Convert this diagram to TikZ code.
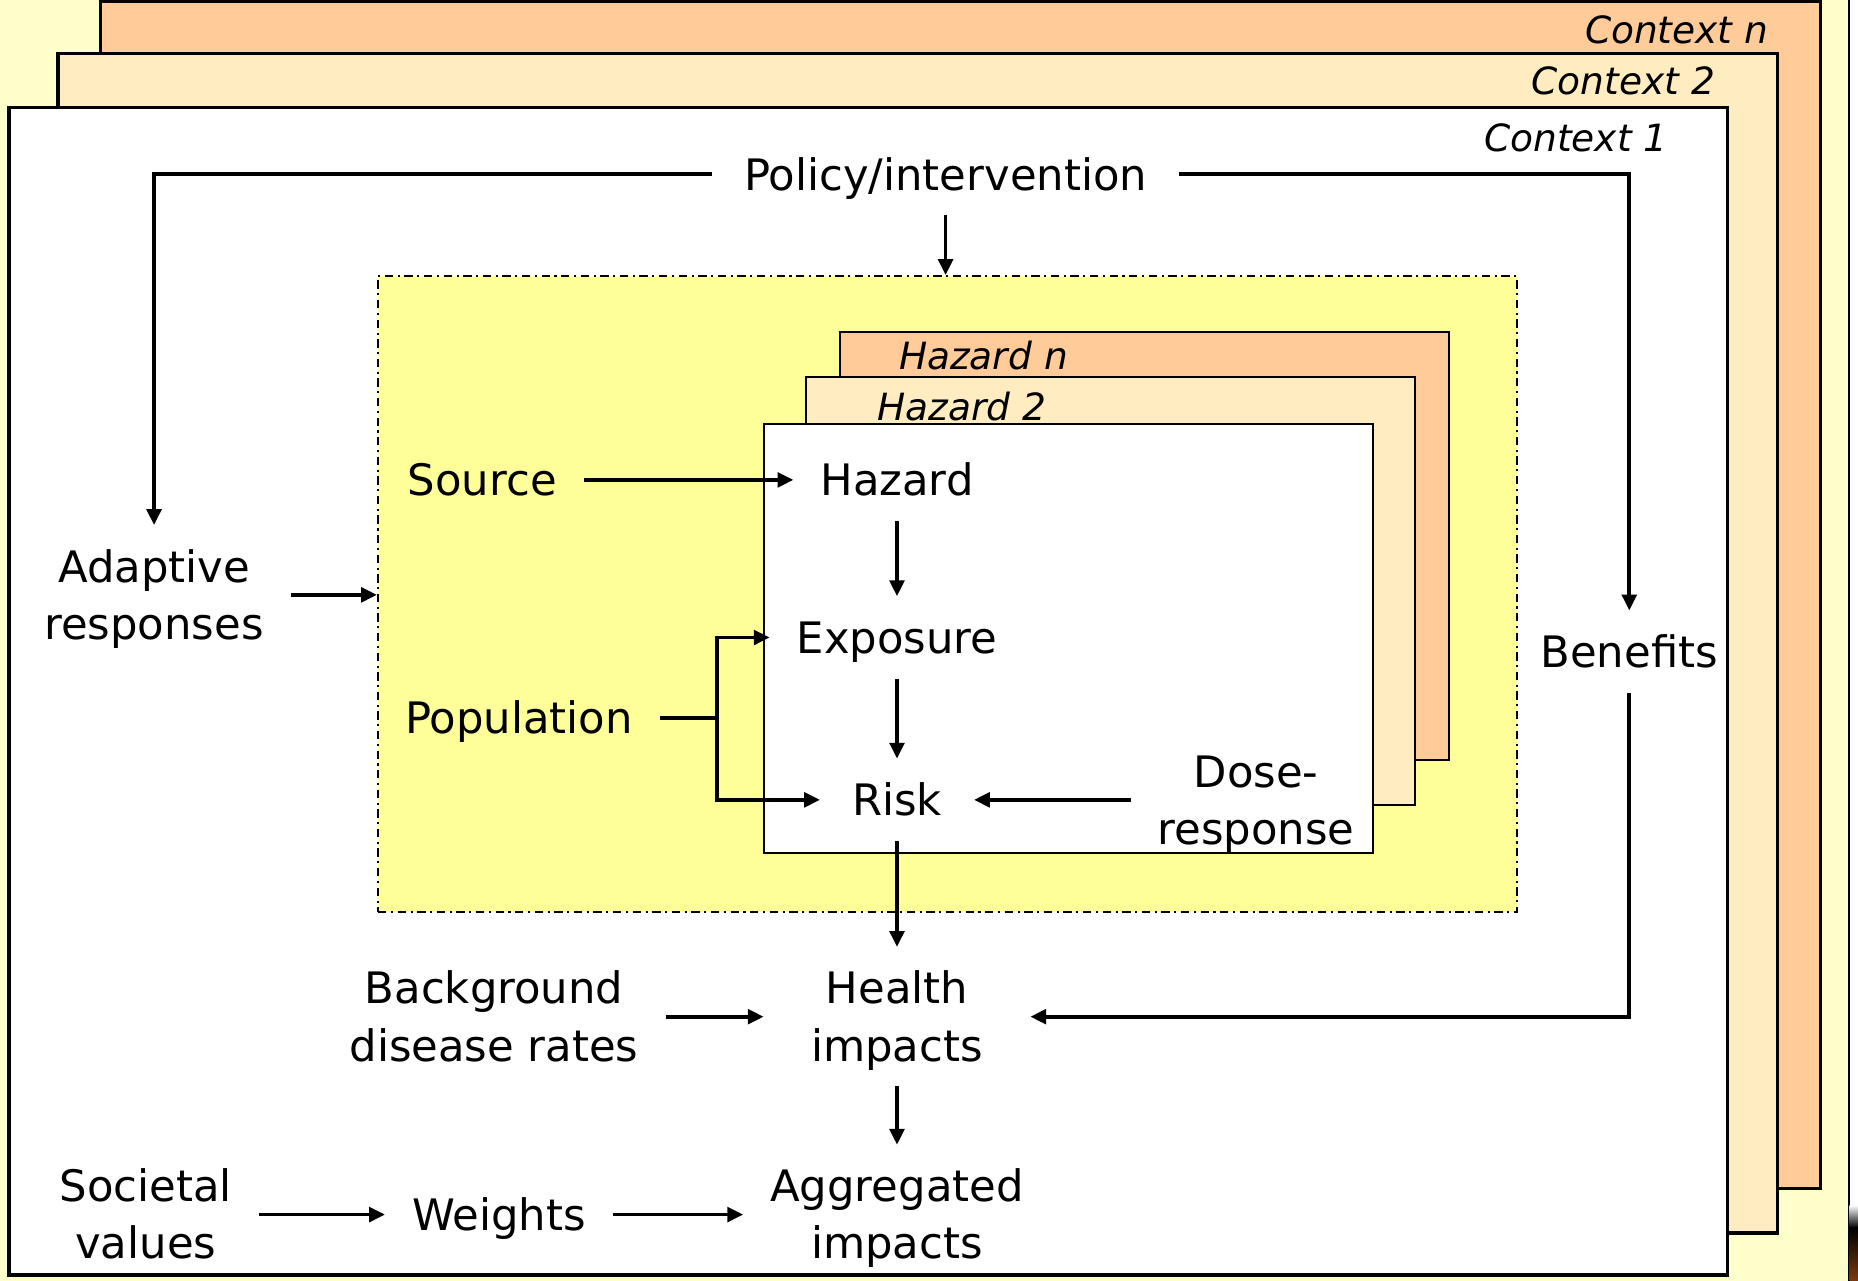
\documentclass[tikz,border=0pt]{standalone}
\usepackage{fontspec}
\setmainfont{DejaVu Sans}
\usetikzlibrary{arrows.meta,fit}

\definecolor{paleyellow}{HTML}{FFFFCC}
\definecolor{peach}{HTML}{FFCC99}
\definecolor{cream}{HTML}{FFECC0}
\definecolor{zoneyellow}{HTML}{FFFF99}
\definecolor{rust}{HTML}{7A3A12}

% two centred lines with struts so the box is centred on the letters
\newcommand\twolines[2]{\rule{0pt}{9.9pt}#1\\#2\rule[-2.3pt]{0pt}{2.3pt}}

\begin{document}
\begin{tikzpicture}[x=0.01cm,y=-0.01cm,
  every node/.style={font=\fontsize{10.4}{13.7}\selectfont},
  lbl/.style={inner xsep=6.3pt, inner ysep=3.6pt, text height=9.9pt, text depth=2.3pt},
  lbl2/.style={inner xsep=6.3pt, inner ysep=3.6pt, align=center},
  ctx/.style={draw=black, line width=0.75pt},
  hz/.style={draw=black, line width=0.5pt},
  tag/.style={font=\fontsize{9}{11}\selectfont\itshape, inner sep=0pt},
  conn/.style={line width=0.9pt},
  arr/.style={conn, -{Triangle[length=3.8pt,width=3.5pt]}}]

% page background and right margin
\fill[paleyellow] (0,0) rectangle (1568,1081);
\useasboundingbox (0,0) rectangle (1568,1081);
\fill[white] (1561,0) rectangle (1568,1081);
\draw[line width=0.6pt] (1560.5,0) -- (1560.5,1081);
\shade[top color=white, bottom color=black] (1561,1017) rectangle (1568,1036);
\shade[top color=black, bottom color=rust] (1561,1036) rectangle (1568,1081);

% stacked context sheets
\filldraw[ctx, fill=peach] (85,1) rectangle (1536,1003);
\filldraw[ctx, fill=cream] (49,45.5) rectangle (1500,1040.5);
\filldraw[ctx, fill=white] (7.6,91) rectangle (1458,1076);
\node[tag, anchor=base east] (ctxn) at (1493,37) {Context n};
\node[tag, anchor=base east] (ctx2) at (1448,79.5) {Context 2};
\node[tag, anchor=base east] (ctx1) at (1408,127.5) {Context 1};

% assessment zone
\coordinate (zoneA) at (319,233);
\coordinate (zoneB) at (1280,770);
\node[fit=(zoneA)(zoneB), inner sep=0pt, draw, fill=zoneyellow, line width=0.5pt,
      dash pattern=on 2pt off 1.1pt on 0.5pt off 1.1pt] (zone) {};

% stacked hazard sheets
\filldraw[hz, fill=peach] (709,280) rectangle (1223,641);
\filldraw[hz, fill=cream] (680,318) rectangle (1194,679);
\filldraw[hz, fill=white] (645,358) rectangle (1159,720);
\node[tag, anchor=base west] (hzn) at (758,311.5) {Hazard n};
\node[tag, anchor=base west] (hz2) at (740,354.5) {Hazard 2};

% labels
\node[lbl, inner xsep=7.4pt] (policy) at (798,147) {Policy/intervention};
\node[lbl2] (adapt) at (130,502) {\twolines{Adaptive}{responses}};
\node[lbl] (source) at (407,405) {Source};
\node[lbl] (hazard) at (757,405) {Hazard};
\node[lbl] (exposure) at (757,538) {Exposure};
\node[lbl] (population) at (438,606) {Population};
\node[lbl, inner xsep=7.5pt] (risk) at (757,675) {Risk};
\node[lbl2] (dose) at (1060,675) {\twolines{Dose-}{response}};
\node[lbl] (benefits) at (1375,550) {Benefits};
\node[lbl2] (background) at (417,858) {\twolines{Background}{disease rates}};
\node[lbl2, inner xsep=11.2pt] (health) at (757,858) {\twolines{Health}{impacts}};
\node[lbl2] (societal) at (123,1025) {\twolines{Societal}{values}};
\node[lbl] (weights) at (421,1025) {Weights};
\node[lbl2] (aggregated) at (757,1025) {\twolines{Aggregated}{impacts}};

% connectors
\draw[arr] (policy.west) -| (adapt.north);
\draw[arr] (policy.east) -| (benefits.north);
\draw[arr] (policy.south) -- (policy.south |- zone.north);
\draw[arr] (adapt.east) -- (adapt.east -| zone.west);
\draw[arr] (source) -- (hazard);
\draw[arr] (hazard) -- (exposure);
\draw[arr] (exposure) -- (risk);
\coordinate (split) at (605,606);
\draw[conn] (population.east) -- (split);
\draw[arr] (split) |- (exposure.west);
\draw[arr] (split) |- (risk.west);
\draw[arr] (dose) -- (risk);
\draw[arr] (risk) -- (health);
\draw[arr] (benefits.south) |- (health.east);
\draw[arr] (background) -- (health);
\draw[arr] (health) -- (aggregated);
\draw[arr] (societal) -- (weights);
\draw[arr] (weights) -- (aggregated);
\end{tikzpicture}
\end{document}
